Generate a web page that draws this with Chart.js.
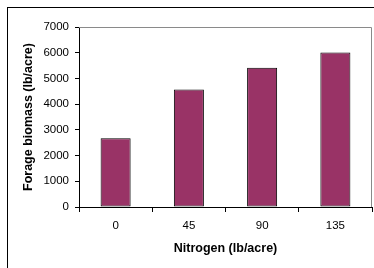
<!DOCTYPE html>
<html>
<head>
<meta charset="utf-8">
<script src="https://cdn.jsdelivr.net/npm/chart.js@4/dist/chart.umd.min.js"></script>
<style>
  html,body{margin:0;padding:0;background:#fff;overflow:hidden;}
  #wrap{position:relative;width:374px;height:268px;}
  #frame{position:absolute;left:7px;top:7px;width:400px;height:300px;border:1px solid #000;box-sizing:border-box;}
  canvas{position:absolute;left:0;top:0;}
</style>
</head>
<body>
<div id="wrap">
  <div id="frame"></div>
  <canvas id="c" width="374" height="268"></canvas>
</div>
<script>
const categories = ['0', '45', '90', '135'];
const biomass = [2670, 4570, 5420, 6010];
const yMin = 0, yMax = 7000, yStep = 1000;

const font = 'Liberation Sans, Arial, sans-serif';

// grey top/right edge of the plot area, like Excel's plot frame
const plotFrame = {
  id: 'plotFrame',
  afterDatasetsDraw(chart){
    const {ctx, chartArea: a} = chart;
    ctx.save();
    ctx.strokeStyle = '#8a8a8a';
    ctx.lineWidth = 1;
    ctx.beginPath();
    ctx.moveTo(a.left, a.top + 0.5);
    ctx.lineTo(a.right - 0.5, a.top + 0.5);
    ctx.lineTo(a.right - 0.5, a.bottom);
    ctx.stroke();
    ctx.restore();
  }
};

new Chart(document.getElementById('c'), {
  type: 'bar',
  data: {
    labels: categories,
    datasets: [{
      data: biomass,
      backgroundColor: '#993366',
      borderColor: '#000',
      borderWidth: 1,
      borderSkipped: false,
      barPercentage: 0.41,
      categoryPercentage: 1
    }]
  },
  options: {
    responsive: false,
    animation: false,
    layout: {padding: {top: 27, right: 2, left: 0, bottom: 0}},
    plugins: {legend: {display: false}, tooltip: {enabled: false}},
    scales: {
      x: {
        grid: {offset: true, drawOnChartArea: false, tickLength: 5, color: '#000'},
        border: {color: '#000'},
        ticks: {color: '#000', font: {family: font, size: 11.5}, padding: 7},
        title: {display: true, text: 'Nitrogen (lb/acre)', color: '#000',
                font: {family: font, size: 12.5, weight: 'bold'}, padding: {top: 0, bottom: 11.5}},
        afterFit: s => { s.height = 61; }
      },
      y: {
        min: yMin, max: yMax,
        grid: {drawOnChartArea: false, tickLength: 4, color: '#000'},
        border: {color: '#000'},
        ticks: {stepSize: yStep, color: '#000', font: {family: font, size: 11.5}, padding: 6,
                callback: v => String(v)},
        title: {display: true, text: 'Forage biomass (lb/acre)', color: '#000',
                font: {family: font, size: 12.5, weight: 'bold'}, padding: {top: 21.5, bottom: 0}},
        afterFit: s => { s.width = 79; }
      }
    }
  },
  plugins: [plotFrame]
});
</script>
</body>
</html>
